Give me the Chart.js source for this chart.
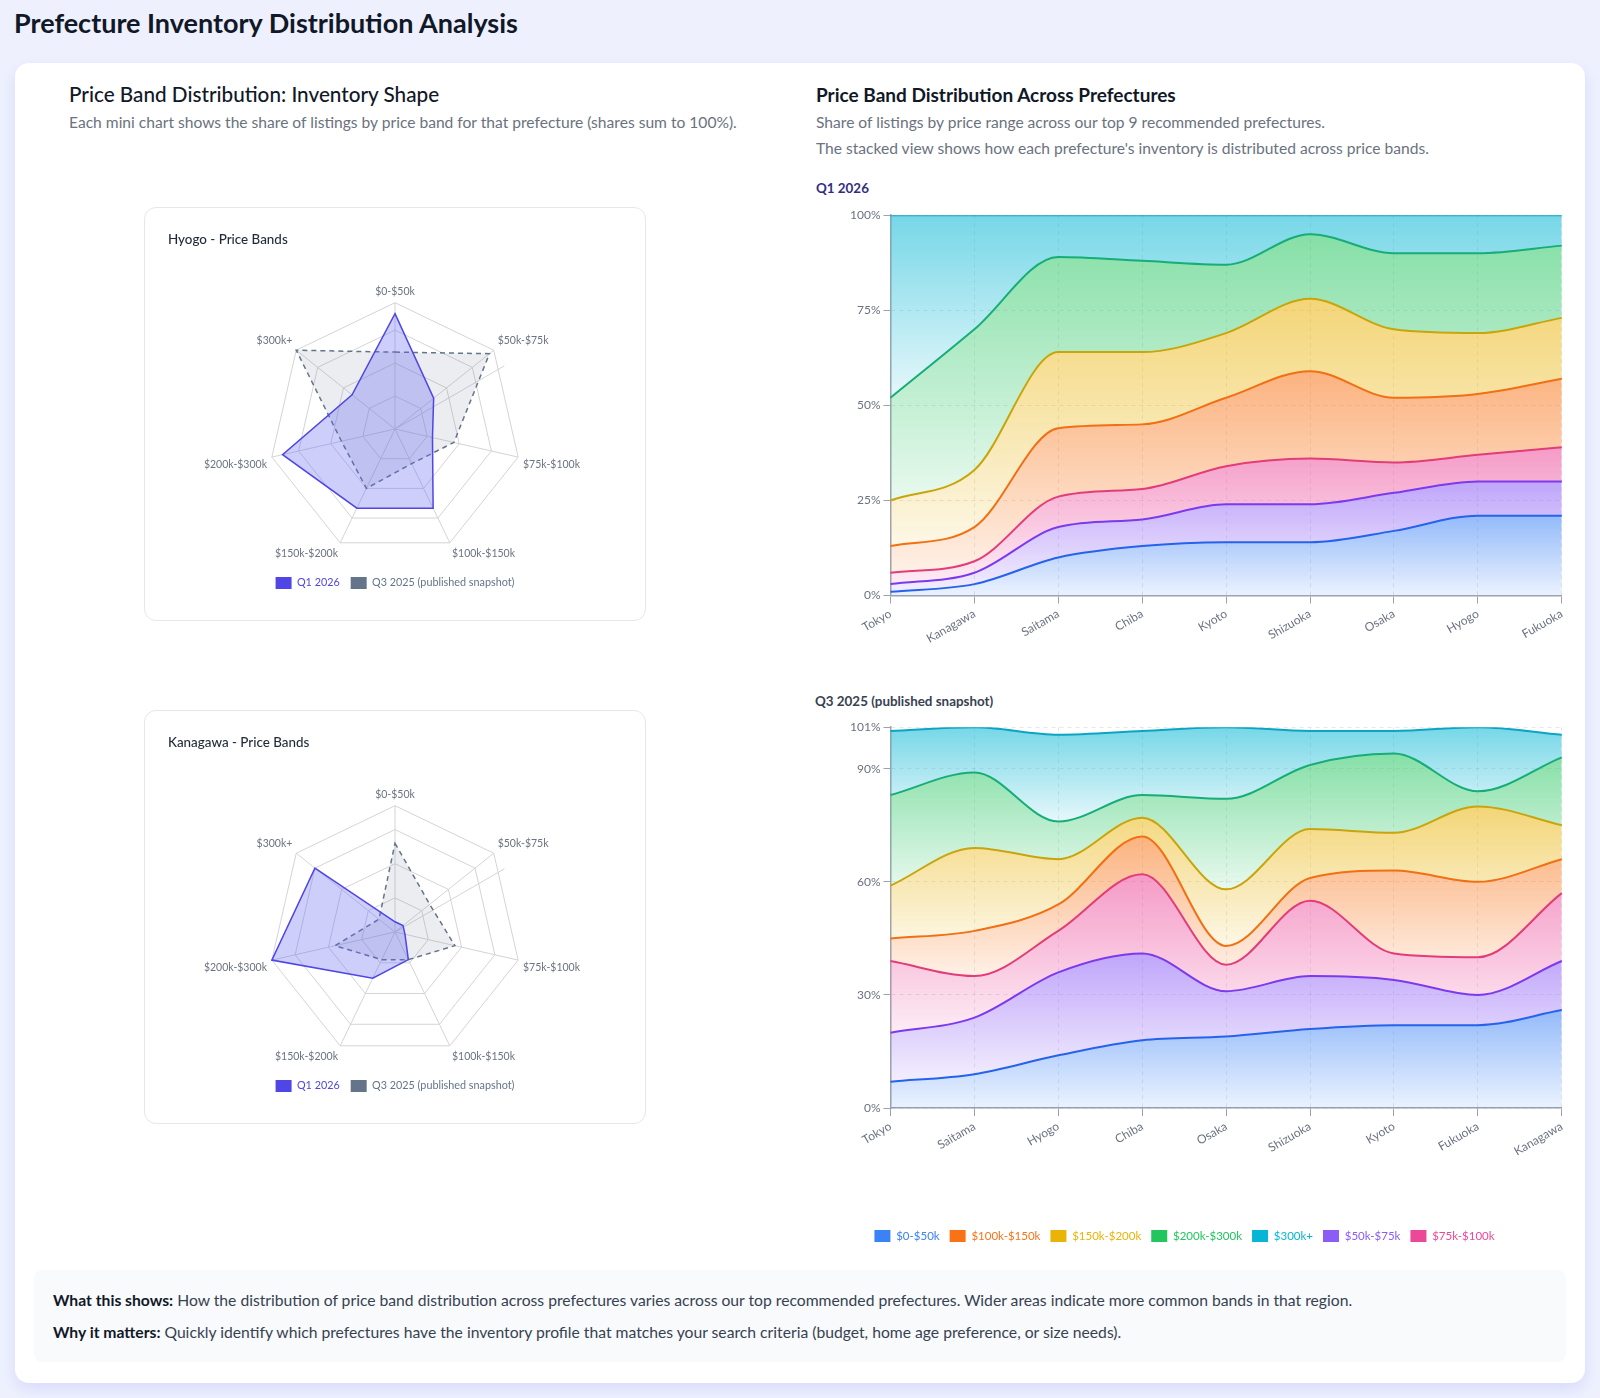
<!DOCTYPE html>
<html>
<head>
<meta charset="utf-8">
<title>Prefecture Inventory Distribution Analysis</title>
<script src="https://cdn.jsdelivr.net/npm/chart.js@4.4.1/dist/chart.umd.min.js"></script>
<style>
  body { margin: 0; width: 1600px; height: 1398px; overflow: hidden; background: #eef1fd; font-family: Lato, "Noto Sans", sans-serif; color: #111827; position: relative; }
  h1 { position: absolute; left: 14px; top: 5px; margin: 0; font-size: 27px; line-height: 35px; font-weight: 700; }
  .card { position: absolute; left: 15px; top: 63px; width: 1570px; height: 1320px; background: #fff; border-radius: 14px; box-shadow: 0 6px 16px rgba(99, 102, 241, 0.16); }
  .abs { position: absolute; }
  h2 { margin: 0; font-size: 20.7px; line-height: 25px; font-weight: 500; color: #111827; }
  h2.strong { font-size: 19px; font-weight: 700; }
  .sub { font-size: 15.6px; line-height: 25.5px; color: #6b7280; }
  .mini { position: absolute; left: 129px; width: 500px; height: 412px; border: 1px solid #e5e7eb; border-radius: 12px; }
  .mini .box { position: absolute; left: 23px; top: 23px; right: 23px; bottom: 21px; }
  .qlabel { font-size: 13.4px; line-height: 16px; font-weight: 700; }
  .info { position: absolute; left: 19px; top: 1207px; width: 1494px; height: 53px; padding: 19.5px 19px; background: #f8fafc; border-radius: 8px; font-size: 15.7px; line-height: 21px; color: #374151; }
  .info p { margin: 0 0 11.6px 0; }
  .info b { color: #111827; }
</style>
</head>
<body>
<h1>Prefecture Inventory Distribution Analysis</h1>
<div class="card">
  <h2 class="abs" style="left:54px; top:18.5px;">Price Band Distribution: Inventory Shape</h2>
  <div class="abs sub" style="left:54px; top:47px;">Each mini chart shows the share of listings by price band for that prefecture (shares sum to 100%).</div>

  <div class="mini" style="top:144px;"><div class="box"><canvas id="radarHyogo"></canvas></div></div>
  <div class="mini" style="top:647px;"><div class="box"><canvas id="radarKanagawa"></canvas></div></div>

  <h2 class="abs strong" style="left:801px; top:18.5px;">Price Band Distribution Across Prefectures</h2>
  <div class="abs sub" style="left:801px; top:47px;">Share of listings by price range across our top 9 recommended prefectures.<br>The stacked view shows how each prefecture's inventory is distributed across price bands.</div>

  <div class="abs qlabel" style="left:801px; top:117px; color:#312e81;">Q1 2026</div>
  <div class="abs" style="left:784px; top:142px; width:773px; height:444px;"><canvas id="stackQ1"></canvas></div>

  <div class="abs qlabel" style="left:800px; top:630px; color:#374151;">Q3 2025 (published snapshot)</div>
  <div class="abs" style="left:784px; top:654px; width:773px; height:535px;"><canvas id="stackQ3"></canvas></div>

  <div class="info">
    <p><b>What this shows:</b> How the distribution of price band distribution across prefectures varies across our top recommended prefectures. Wider areas indicate more common bands in that region.</p>
    <p><b>Why it matters:</b> Quickly identify which prefectures have the inventory profile that matches your search criteria (budget, home age preference, or size needs).</p>
  </div>
</div>

<script>
// price bands, bottom of the stack first
const priceBands = ['$0-$50k', '$50k-$75k', '$75k-$100k', '$100k-$150k', '$150k-$200k', '$200k-$300k', '$300k+'];

const q1Prefectures = ['Tokyo', 'Kanagawa', 'Saitama', 'Chiba', 'Kyoto', 'Shizuoka', 'Osaka', 'Hyogo', 'Fukuoka'];
const q1Band0to50 = [1, 3, 10, 13, 14, 14, 17, 21, 21];
const q1Band50to75 = [2, 3, 8, 7, 10, 10, 10, 9, 9];
const q1Band75to100 = [3, 3, 8, 8, 10, 12, 8, 7, 9];
const q1Band100to150 = [7, 9, 18, 17, 18, 23, 17, 16, 18];
const q1Band150to200 = [12, 15, 20, 19, 17, 19, 18, 16, 16];
const q1Band200to300 = [27, 37, 25, 24, 18, 17, 20, 21, 19];
const q1Band300plus = [48, 30, 11, 12, 13, 5, 10, 10, 8];

const q3Prefectures = ['Tokyo', 'Saitama', 'Hyogo', 'Chiba', 'Osaka', 'Shizuoka', 'Kyoto', 'Fukuoka', 'Kanagawa'];
const q3Band0to50 = [7, 9, 14, 18, 19, 21, 22, 22, 26];
const q3Band50to75 = [13, 15, 22, 23, 12, 14, 12, 8, 13];
const q3Band75to100 = [19, 11, 11, 21, 7, 20, 7, 10, 18];
const q3Band100to150 = [6, 12, 7, 10, 5, 6, 22, 20, 9];
const q3Band150to200 = [14, 22, 12, 5, 15, 13, 10, 20, 9];
const q3Band200to300 = [24, 20, 10, 6, 24, 17, 21, 4, 18];
const q3Band300plus = [17, 12, 23, 17, 19, 9, 6, 17, 6];

const q1Ticks = [0, 25, 50, 75, 100];
const q3Ticks = [0, 30, 60, 90, 101];

const radarPrefectures = ['Hyogo', 'Kanagawa'];

const q1Series = [q1Band0to50, q1Band50to75, q1Band75to100, q1Band100to150, q1Band150to200, q1Band200to300, q1Band300plus];
const q3Series = [q3Band0to50, q3Band50to75, q3Band75to100, q3Band100to150, q3Band150to200, q3Band200to300, q3Band300plus];

const bandColors = ['#3b82f6', '#8b5cf6', '#ec4899', '#f97316', '#eab308', '#22c55e', '#06b6d4'];
const lineColors = ['#2563eb', '#7c3aed', '#e23d78', '#f07014', '#c9a50c', '#16ad78', '#0aa5c2'];
const gridColor = '#d4d4d8';
const strayLineAngle = 60; // degrees from the top, clockwise

Chart.defaults.font.family = 'Lato, "Noto Sans", sans-serif';
Chart.defaults.font.size = 12;
Chart.defaults.color = '#6b7280';
Chart.defaults.animation = false;

function alpha(hex, a) {
    const n = parseInt(hex.slice(1), 16);
    return 'rgba(' + (n >> 16) + ',' + ((n >> 8) & 255) + ',' + (n & 255) + ',' + a + ')';
}

// legend boxes drawn solid, text in the series colour
function solidLabels(chart) {
    const items = Chart.defaults.plugins.legend.labels.generateLabels(chart);
    items.forEach(function (item) {
        const c = chart.data.datasets[item.datasetIndex].legendColor;
        item.fillStyle = c;
        item.strokeStyle = c;
        item.fontColor = c;
        item.lineWidth = 0;
        item.lineDash = [];
    });
    return items;
}

function stackDatasets(series) {
    const tops = [];
    const bottoms = [];
    let running = series[0].map(function () { return 0; });
    series.forEach(function (vals) {
        bottoms.push(running.slice());
        running = running.map(function (r, j) { return r + vals[j]; });
        tops.push(running.slice());
    });
    return series.map(function (vals, i) {
        return {
            label: priceBands[i],
            data: vals,
            borderColor: lineColors[i],
            legendColor: bandColors[i],
            borderWidth: 2,
            pointRadius: 0,
            pointHoverRadius: 0,
            cubicInterpolationMode: 'monotone',
            fill: i === 0 ? 'origin' : '-1',
            backgroundColor: function (ctx) {
                const chart = ctx.chart;
                if (!chart.chartArea) return alpha(bandColors[i], 0.3);
                const y = chart.scales.y;
                const y0 = y.getPixelForValue(Math.max.apply(null, tops[i]));
                const y1 = y.getPixelForValue(Math.min.apply(null, bottoms[i]));
                const g = chart.ctx.createLinearGradient(0, y0, 0, Math.max(y1, y0 + 1));
                g.addColorStop(0, alpha(bandColors[i], 0.55));
                g.addColorStop(1, alpha(bandColors[i], 0.1));
                return g;
            }
        };
    });
}

function stackConfig(labels, series, ticks, showLegend) {
    return {
        type: 'line',
        data: { labels: labels, datasets: stackDatasets(series) },
        options: {
            responsive: true,
            maintainAspectRatio: false,
            layout: { padding: { left: 0, top: 4, right: 2, bottom: 0 } },
            plugins: {
                tooltip: { enabled: false },
                legend: {
                    display: showLegend,
                    position: 'bottom',
                    title: { display: true, text: '', padding: { top: 44, bottom: 0 } },
                    labels: {
                        boxWidth: 16,
                        boxHeight: 12,
                        padding: 10,
                        font: { size: 11.5 },
                        generateLabels: solidLabels,
                        sort: function (a, b) { return a.text < b.text ? -1 : 1; }
                    }
                }
            },
            scales: {
                x: {
                    grid: { color: 'rgba(0,0,0,0.09)', tickColor: '#9ca3af', tickLength: 8 },
                    border: { color: '#9ca3af', width: 1.5, dash: [4, 4] },
                    ticks: { minRotation: 30, maxRotation: 30, font: { size: 12 }, color: '#6b7280' }
                },
                y: {
                    stacked: true,
                    min: 0,
                    max: ticks[ticks.length - 1],
                    afterBuildTicks: function (scale) {
                        scale.ticks = ticks.map(function (v) { return { value: v }; });
                    },
                    // room to the left of the tick labels, inside the axis box
                    afterFit: function (scale) { scale.width += 48; },
                    grid: { color: 'rgba(0,0,0,0.09)', tickColor: '#9ca3af', tickLength: 7 },
                    border: { color: '#9ca3af', width: 1.5, dash: [4, 4] },
                    ticks: {
                        font: { size: 12 },
                        color: '#6b7280',
                        padding: 3,
                        callback: function (v) { return v + '%'; }
                    }
                }
            }
        }
    };
}

const strayAngleLine = {
    id: 'strayAngleLine',
    beforeDatasetsDraw: function (chart) {
        const r = chart.scales.r;
        const a = (strayLineAngle - 90) * Math.PI / 180;
        const ctx = chart.ctx;
        ctx.save();
        ctx.strokeStyle = gridColor;
        ctx.lineWidth = 1;
        ctx.beginPath();
        ctx.moveTo(r.xCenter, r.yCenter);
        ctx.lineTo(r.xCenter + Math.cos(a) * r.drawingArea, r.yCenter + Math.sin(a) * r.drawingArea);
        ctx.stroke();
        ctx.restore();
    }
};

function radarConfig(name) {
    const q1Col = q1Series.map(function (v) { return v[q1Prefectures.indexOf(name)]; });
    const q3Col = q3Series.map(function (v) { return v[q3Prefectures.indexOf(name)]; });
    const max = Math.max.apply(null, q1Col.concat(q3Col));
    const step = Math.ceil(max / 4);
    return {
        type: 'radar',
        data: {
            labels: priceBands,
            datasets: [{
                label: 'Q1 2026',
                data: q1Col,
                borderColor: '#4f46e5',
                backgroundColor: 'rgba(99,102,241,0.32)',
                legendColor: '#4f46e5',
                borderWidth: 1.5,
                pointRadius: 0
            }, {
                label: 'Q3 2025 (published snapshot)',
                data: q3Col,
                borderColor: '#64748b',
                backgroundColor: 'rgba(100,116,139,0.13)',
                legendColor: '#64748b',
                borderDash: [5, 4],
                borderWidth: 1.5,
                pointRadius: 0
            }]
        },
        options: {
            responsive: true,
            maintainAspectRatio: false,
            plugins: {
                tooltip: { enabled: false },
                title: {
                    display: true,
                    text: name + ' - Price Bands',
                    align: 'start',
                    color: '#1f2937',
                    font: { size: 13.4, weight: '500' },
                    padding: { top: 1, bottom: 30 }
                },
                legend: {
                    position: 'bottom',
                    labels: { boxWidth: 16, boxHeight: 12, padding: 11, font: { size: 10.8 }, generateLabels: solidLabels }
                }
            },
            scales: {
                r: {
                    min: 0,
                    max: max,
                    afterBuildTicks: function (scale) {
                        scale.ticks = [0, step, 2 * step, 3 * step, max].map(function (v) { return { value: v }; });
                    },
                    ticks: { display: false },
                    grid: { color: gridColor },
                    angleLines: { color: gridColor },
                    pointLabels: { font: { size: 10.5 }, color: '#6b7280' }
                }
            }
        },
        plugins: [strayAngleLine]
    };
}

radarPrefectures.forEach(function (name) {
    new Chart(document.getElementById('radar' + name), radarConfig(name));
});
new Chart(document.getElementById('stackQ1'), stackConfig(q1Prefectures, q1Series, q1Ticks, false));
new Chart(document.getElementById('stackQ3'), stackConfig(q3Prefectures, q3Series, q3Ticks, true));
</script>
</body>
</html>
